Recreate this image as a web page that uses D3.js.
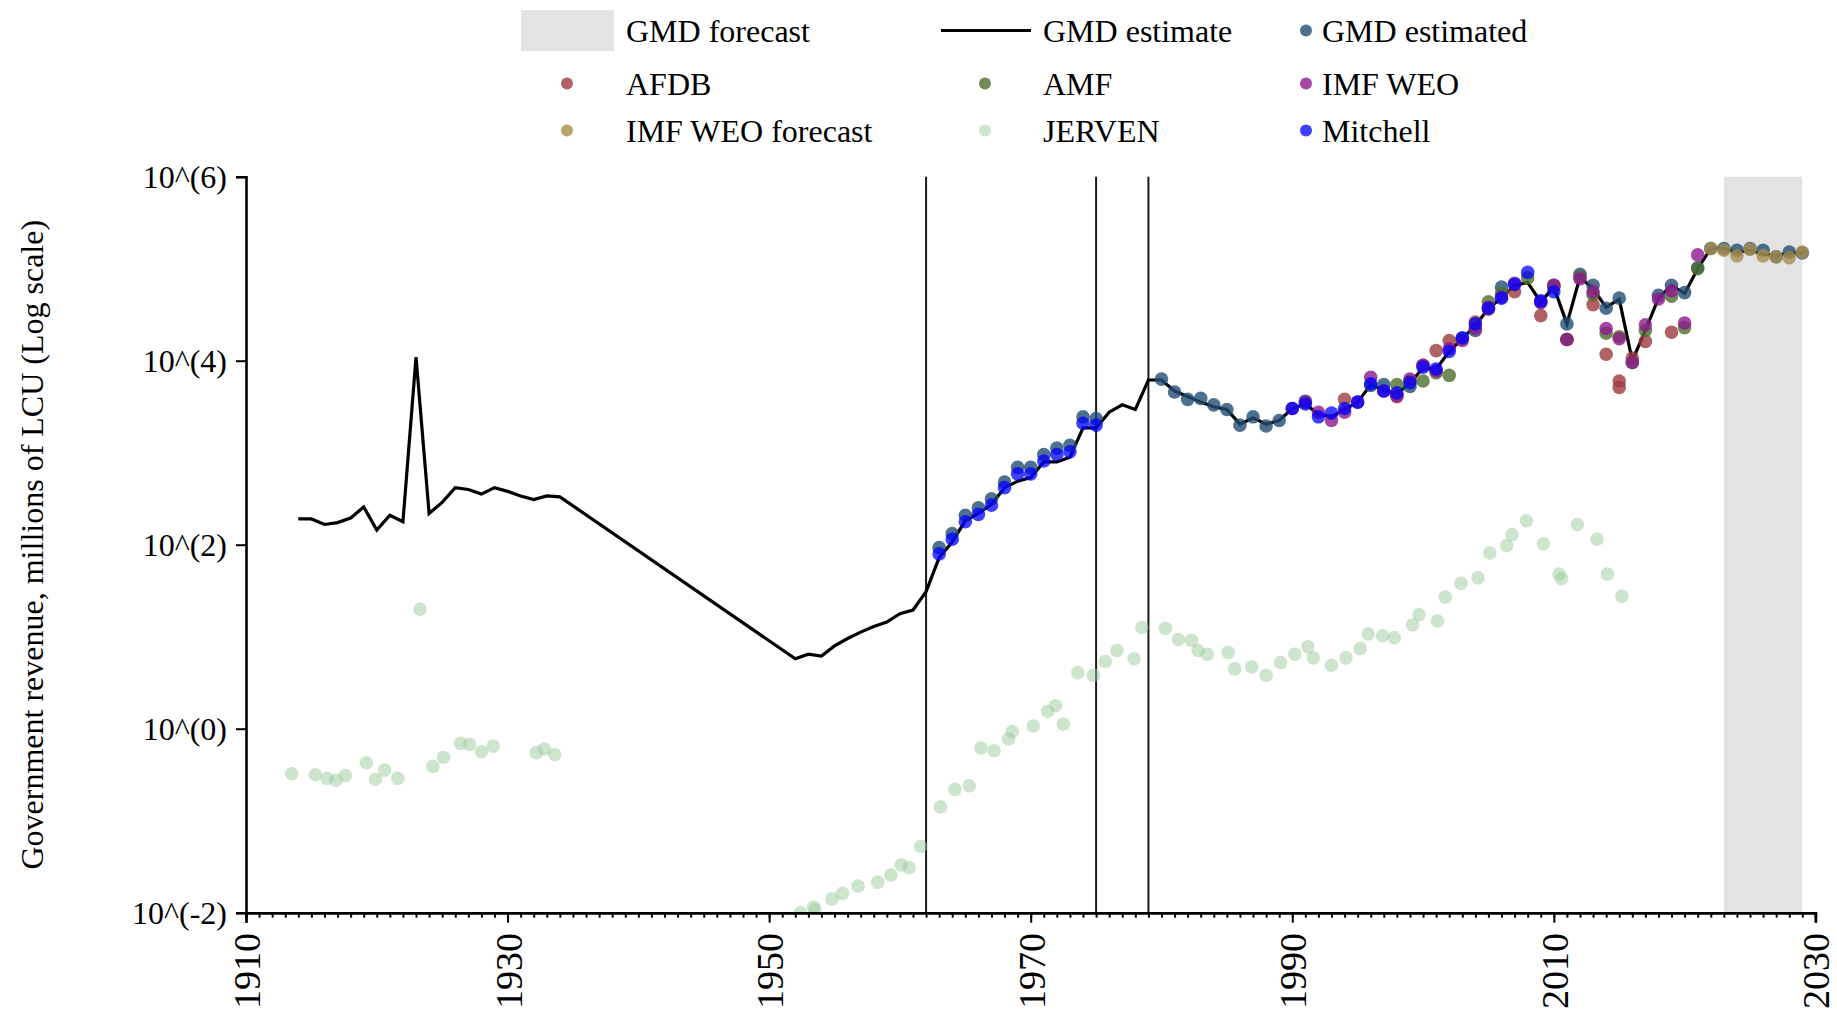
<!DOCTYPE html>
<html>
<head>
<meta charset="utf-8">
<script src="https://cdn.jsdelivr.net/npm/d3@7"></script>
<style>
  html, body { margin: 0; padding: 0; background: #fff; }
  svg { display: block; }
  text { font-family: "Liberation Serif", "Times New Roman", Times, serif; fill: #000; }
</style>
</head>
<body>
<svg id="chart" width="1837" height="1017"></svg>
<script>
// ---------------- DATA (year, log10 of government revenue in millions of LCU) ----------------
const xTickLabels = [1910, 1930, 1950, 1970, 1990, 2010, 2030];
const yTickExponents = [-2, 0, 2, 4, 6];
const forecastSpan = [2023, 2029];
const eventYears = [1962, 1975, 1979];
const yAxisTitle = "Government revenue, millions of LCU (Log scale)";

const gmdEstimate = [
  [1914,2.28],[1915,2.28],[1916,2.22],[1917,2.24],[1918,2.29],[1919,2.41],[1920,2.16],[1921,2.32],[1922,2.25],[1923,4.04],
  [1924,2.34],[1925,2.46],[1926,2.62],[1927,2.60],[1928,2.55],[1929,2.62],[1930,2.58],[1931,2.53],[1932,2.49],[1933,2.53],[1934,2.52],
  [1952,0.76],[1953,0.81],[1954,0.79],[1955,0.90],[1956,0.98],[1957,1.05],[1958,1.11],[1959,1.16],[1960,1.25],[1961,1.29],[1962,1.49],
  [1963,1.86],[1964,2.03],[1965,2.26],[1966,2.34],[1967,2.44],[1968,2.62],[1969,2.69],[1970,2.73],[1971,2.90],[1972,2.90],
  [1973,2.95],[1974,3.27],[1975,3.27],[1976,3.44],[1977,3.52],[1978,3.47],[1979,3.79],[1980,3.79],[1981,3.67],[1982,3.61],
  [1983,3.55],[1984,3.50],[1985,3.47],[1986,3.31],[1987,3.38],[1988,3.31],[1989,3.35],[1990,3.48],[1991,3.53],[1992,3.42],
  [1993,3.39],[1994,3.47],[1995,3.55],[1996,3.74],[1997,3.68],[1998,3.64],[1999,3.76],[2000,3.92],[2001,3.91],[2002,4.10],
  [2003,4.24],[2004,4.38],[2005,4.57],[2006,4.68],[2007,4.82],[2008,4.85],[2009,4.64],[2010,4.80],[2011,4.40],[2012,4.91],
  [2013,4.78],[2014,4.58],[2015,4.67],[2016,4.00],[2017,4.33],[2018,4.68],[2019,4.82],[2020,4.73],[2021,5.00],[2022,5.22],
  [2023,5.22],[2024,5.18],[2025,5.20],[2026,5.16],[2027,5.14],[2028,5.17],[2029,5.17]
];

const gmdEstimated = [
  [1963,1.97],[1964,2.12],[1965,2.32],[1966,2.40],[1967,2.50],[1968,2.68],[1969,2.84],[1970,2.84],[1971,2.98],[1972,3.05],
  [1973,3.08],[1974,3.39],[1975,3.37],[1980,3.80],[1981,3.66],[1982,3.58],[1983,3.59],[1984,3.52],[1985,3.47],[1986,3.30],
  [1987,3.39],[1988,3.29],[1989,3.35],[1991,3.56],[1996,3.73],[1997,3.74],[1999,3.72],[2003,4.24],[2004,4.33],[2006,4.80],
  [2009,4.64],[2010,4.82],[2011,4.40],[2012,4.94],[2013,4.82],[2014,4.57],[2015,4.68],[2018,4.71],[2019,4.82],[2020,4.74],
  [2021,5.01],[2022,5.22],[2023,5.22],[2024,5.20],[2025,5.22],[2026,5.20],[2027,5.13],[2028,5.18],[2029,5.17]
];

const afdb = [
  [1994,3.58],[1998,3.61],[2000,3.95],[2001,4.11],[2002,4.22],[2004,4.42],[2005,4.56],[2007,4.75],[2009,4.49],[2011,4.23],
  [2013,4.61],[2014,4.07],[2015,3.71],[2015,3.78],[2016,4.03],[2017,4.21],[2019,4.31]
];

const amf = [
  [1998,3.74],[1999,3.78],[2000,3.78],[2001,3.87],[2002,3.84],[2005,4.64],[2006,4.73],[2008,4.90],[2010,4.80],[2011,4.23],
  [2012,4.91],[2013,4.72],[2014,4.30],[2015,4.26],[2016,3.98],[2017,4.33],[2019,4.70],[2020,4.36],[2021,5.00]
];

const imfWeo = [
  [1990,3.48],[1991,3.55],[1992,3.44],[1993,3.35],[1994,3.44],[1995,3.55],[1996,3.82],[1997,3.67],[1998,3.62],[1999,3.80],
  [2000,3.95],[2001,3.89],[2002,4.13],[2003,4.22],[2004,4.35],[2005,4.58],[2006,4.69],[2007,4.84],[2009,4.63],[2010,4.82],
  [2011,4.23],[2012,4.89],[2013,4.75],[2014,4.35],[2015,4.24],[2016,3.98],[2017,4.39],[2018,4.67],[2019,4.76],[2020,4.41],
  [2021,5.15]
];

const imfWeoForecast = [
  [2022,5.22],[2023,5.20],[2024,5.14],[2025,5.21],[2026,5.14],[2027,5.13],[2028,5.12],[2029,5.18]
];

const jerven = [
  [1913.5,-0.49],[1915.3,-0.50],[1916.2,-0.54],[1916.9,-0.56],[1917.6,-0.51],[1919.2,-0.37],[1919.9,-0.55],[1920.6,-0.45],
  [1921.6,-0.54],[1923.3,1.30],[1924.3,-0.41],[1925.1,-0.31],[1926.4,-0.16],[1927.1,-0.17],[1928.0,-0.25],[1928.9,-0.19],
  [1932.2,-0.26],[1932.8,-0.22],[1933.6,-0.28],
  [1952.4,-2.00],[1953.4,-1.94],[1953.5,-1.97],[1954.8,-1.85],[1955.6,-1.79],[1956.8,-1.71],[1958.3,-1.67],[1959.3,-1.59],
  [1960.1,-1.48],[1960.7,-1.51],[1961.6,-1.28],[1963.1,-0.85],[1964.2,-0.66],[1965.3,-0.62],[1966.2,-0.21],[1967.2,-0.24],
  [1968.3,-0.11],[1968.6,-0.03],[1970.2,0.03],[1971.3,0.19],[1971.9,0.25],[1972.5,0.05],[1973.6,0.61],[1974.8,0.58],
  [1975.7,0.73],[1976.6,0.85],[1977.9,0.76],[1978.5,1.10],[1980.3,1.09],[1981.3,0.97],[1982.3,0.96],[1982.8,0.85],
  [1983.5,0.81],[1985.1,0.83],[1985.6,0.65],[1986.9,0.67],[1988.0,0.58],[1989.1,0.72],[1990.2,0.81],
  [1991.2,0.89],[1991.6,0.77],[1993.0,0.69],[1994.1,0.77],[1995.2,0.87],[1995.8,1.03],[1996.9,1.01],[1997.8,0.99],
  [1999.2,1.13],[1999.7,1.24],[2001.1,1.17],[2001.7,1.43],[2002.9,1.58],[2004.2,1.64],[2005.1,1.91],[2006.4,1.99],
  [2006.8,2.11],[2007.9,2.26],[2009.2,2.01],[2010.4,1.68],[2010.6,1.63],[2011.8,2.22],[2013.3,2.06],[2014.1,1.68],[2015.2,1.44]
];

const mitchell = [
  [1963,1.90],[1964,2.06],[1965,2.25],[1966,2.33],[1967,2.43],[1968,2.62],[1969,2.77],[1970,2.77],[1971,2.91],[1972,2.98],
  [1973,3.01],[1974,3.32],[1975,3.30],
  [1990,3.48],[1991,3.53],[1992,3.39],[1993,3.43],[1994,3.48],[1995,3.55],[1996,3.75],[1997,3.67],[1998,3.65],[1999,3.76],
  [2000,3.93],[2001,3.91],[2002,4.10],[2003,4.25],[2004,4.40],[2005,4.57],[2006,4.68],[2007,4.83],[2008,4.96],[2009,4.65],
  [2010,4.75]
];

// ---------------- STYLES ----------------
const dotStyles = {
  "GMD estimated":    { fill: "#234d74", opacity: 0.8 },
  "AFDB":             { fill: "#9e3b3e", opacity: 0.8 },
  "AMF":              { fill: "#4d6e2b", opacity: 0.8 },
  "IMF WEO":          { fill: "#8e1a8e", opacity: 0.8 },
  "IMF WEO forecast": { fill: "#a88c4a", opacity: 0.8 },
  "JERVEN":           { fill: "#9cc99c", opacity: 0.5 },
  "Mitchell":         { fill: "#0000ff", opacity: 0.75 }
};
const dotSeries = [
  ["GMD estimated", gmdEstimated],
  ["AFDB", afdb],
  ["AMF", amf],
  ["IMF WEO", imfWeo],
  ["IMF WEO forecast", imfWeoForecast],
  ["JERVEN", jerven],
  ["Mitchell", mitchell]
];

// ---------------- LAYOUT ----------------
const svg = d3.select("#chart");
const plot = { left: 246, right: 1815.4, top: 176.7, bottom: 912.7 };
const R = 6.8;
const FONT = 32;

const x = d3.scaleLinear().domain([1910, 2030]).range([plot.left, plot.right]);
const y = d3.scaleLog().domain([1e-2, 1e6]).range([plot.bottom, plot.top]);
const yv = d => y(Math.pow(10, d[1]));

svg.append("rect").attr("width", 1837).attr("height", 1017).attr("fill", "#fff");

svg.append("defs").append("clipPath").attr("id", "plotClip")
  .append("rect")
  .attr("x", plot.left).attr("y", plot.top - 20)
  .attr("width", plot.right - plot.left + 30)
  .attr("height", plot.bottom - plot.top + 20);

// forecast band
svg.append("rect")
  .attr("x", x(forecastSpan[0])).attr("y", plot.top)
  .attr("width", x(forecastSpan[1]) - x(forecastSpan[0]))
  .attr("height", plot.bottom - plot.top)
  .attr("fill", "#e3e3e3");

// event vertical lines
svg.append("g").selectAll("line").data(eventYears).join("line")
  .attr("x1", d => x(d)).attr("x2", d => x(d))
  .attr("y1", plot.top).attr("y2", plot.bottom)
  .attr("stroke", "#1a1a1a").attr("stroke-width", 2);

const g = svg.append("g").attr("clip-path", "url(#plotClip)");

// GMD estimate line
g.append("path").datum(gmdEstimate)
  .attr("fill", "none").attr("stroke", "#000").attr("stroke-width", 3.2)
  .attr("stroke-linejoin", "miter")
  .attr("d", d3.line().x(d => x(d[0])).y(yv));

// scatter series
dotSeries.forEach(([name, data]) => {
  const st = dotStyles[name];
  g.append("g").selectAll("circle").data(data).join("circle")
    .attr("cx", d => x(d[0])).attr("cy", yv).attr("r", R)
    .attr("fill", st.fill).attr("fill-opacity", st.opacity);
});

// ---------------- AXES ----------------
const xMinor = d3.axisBottom(x).tickValues(d3.range(1910, 2031, 1)).tickSize(5).tickFormat("");
const xMajor = d3.axisBottom(x).tickValues(xTickLabels).tickSize(10).tickFormat("");
const gxMinor = svg.append("g").attr("transform", `translate(0,${plot.bottom})`).call(xMinor);
const gxMajor = svg.append("g").attr("transform", `translate(0,${plot.bottom})`).call(xMajor);
[gxMinor, gxMajor].forEach(ax => {
  ax.select(".domain").attr("stroke", "#000").attr("stroke-width", 2.6);
  ax.selectAll(".tick line").attr("stroke", "#000").attr("stroke-width", 2);
});
svg.append("g").selectAll("text").data(xTickLabels).join("text")
  .attr("transform", d => `translate(${x(d) + 14},${933}) rotate(-90)`)
  .attr("text-anchor", "end")
  .style("font-size", "38px")
  .text(d => d);

const yAxis = d3.axisLeft(y).tickValues(yTickExponents.map(e => Math.pow(10, e))).tickSize(10).tickFormat("");
const gy = svg.append("g").attr("transform", `translate(${plot.left},0)`).call(yAxis);
gy.select(".domain").attr("stroke", "#000").attr("stroke-width", 2.6);
gy.selectAll(".tick line").attr("stroke", "#000").attr("stroke-width", 2);
gy.selectAll(".ylab").data(yTickExponents).join("text")
  .attr("class", "ylab")
  .attr("x", -19)
  .attr("y", d => y(Math.pow(10, d)) + 11)
  .attr("text-anchor", "end")
  .style("font-size", FONT + "px")
  .text(d => `10^(${d})`);

svg.append("text")
  .attr("transform", `translate(43,${(plot.top + plot.bottom) / 2 + 0}) rotate(-90)`)
  .attr("text-anchor", "middle")
  .style("font-size", FONT + "px")
  .text(yAxisTitle);

// ---------------- LEGEND ----------------
const legendRows = [30.5, 83.5, 130.5];
const legendDotX = [567, 985, 1306];
const legendTextX = [626, 1043, 1322];
const legendItems = [
  { label: "GMD forecast", kind: "band", col: 0, row: 0 },
  { label: "GMD estimate", kind: "line", col: 1, row: 0 },
  { label: "GMD estimated", kind: "dot", col: 2, row: 0 },
  { label: "AFDB", kind: "dot", col: 0, row: 1 },
  { label: "AMF", kind: "dot", col: 1, row: 1 },
  { label: "IMF WEO", kind: "dot", col: 2, row: 1 },
  { label: "IMF WEO forecast", kind: "dot", col: 0, row: 2 },
  { label: "JERVEN", kind: "dot", col: 1, row: 2 },
  { label: "Mitchell", kind: "dot", col: 2, row: 2 }
];
const lg = svg.append("g");
legendItems.forEach(it => {
  const cy = legendRows[it.row];
  if (it.kind === "band") {
    lg.append("rect").attr("x", 521).attr("y", 10).attr("width", 93).attr("height", 41).attr("fill", "#e3e3e3");
  } else if (it.kind === "line") {
    lg.append("line").attr("x1", 941).attr("x2", 1031).attr("y1", cy).attr("y2", cy)
      .attr("stroke", "#000").attr("stroke-width", 3.2);
  } else {
    const st = dotStyles[it.label];
    lg.append("circle").attr("cx", legendDotX[it.col]).attr("cy", cy).attr("r", 6)
      .attr("fill", st.fill).attr("fill-opacity", st.opacity);
  }
  lg.append("text").attr("x", legendTextX[it.col]).attr("y", cy + 11)
    .style("font-size", FONT + "px").text(it.label);
});
</script>
</body>
</html>
